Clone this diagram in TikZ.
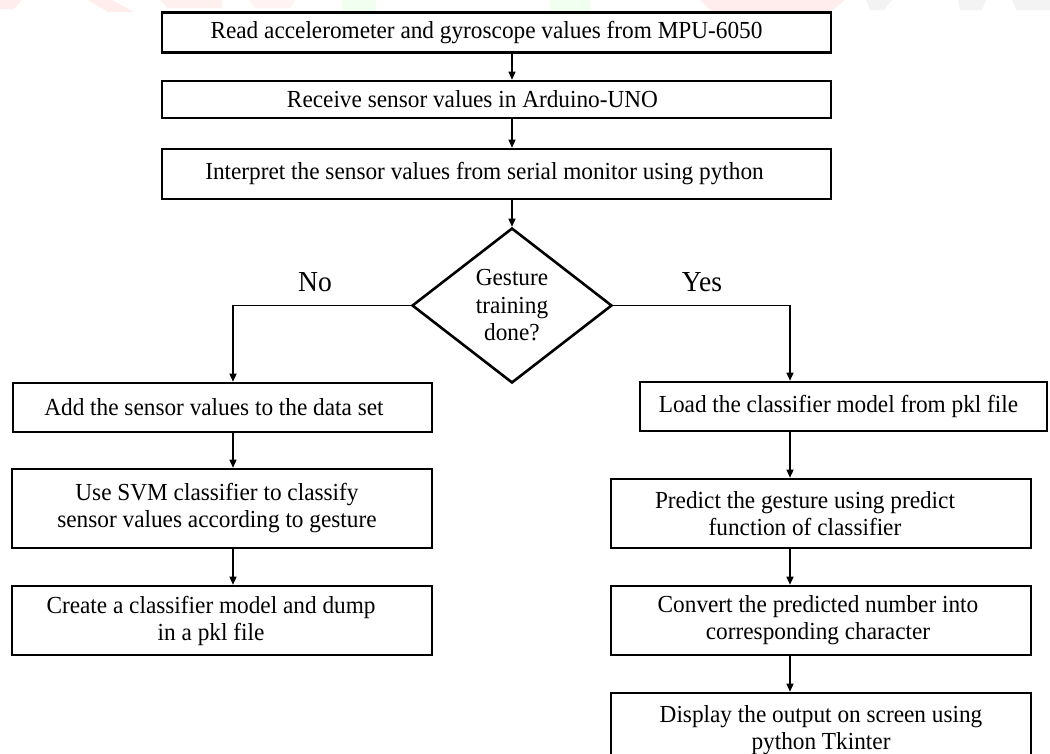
\documentclass[tikz,border=0pt]{standalone}
\usepackage{fontspec}
\setmainfont[FakeStretch=0.95]{Liberation Serif}
\usetikzlibrary{shapes.geometric,arrows.meta}
\newcommand{\rpad}[1]{\hspace*{#1}}
\begin{document}
\begin{tikzpicture}[x=1pt,y=-1pt,
  box/.style={draw=black,line width=2.6pt,rectangle,inner sep=0pt,align=center,
    font=\fontsize{24.5}{27}\selectfont},
  dec/.style={draw=black,line width=2.6pt,diamond,inner sep=0pt,align=center,
    minimum width=200pt,minimum height=155pt,font=\fontsize{24.5}{27.5}\selectfont},
  lbl/.style={inner sep=0pt,font=\fontsize{29}{30}\selectfont},
  conn/.style={draw=black,line width=1.3pt,-{Triangle[length=8pt,width=7pt]}}]
\useasboundingbox (0,0) rectangle (1050,753);
\clip (0,0) rectangle (1050,753);

% faint watermark fragments at the top edge
\begin{scope}[opacity=0.12]
  \fill[red!60] (0,0) -- (22,0) -- (14,9) -- (0,9) -- cycle;
  \fill[red!60] (88,0) -- (112,0) -- (134,12) -- (108,12) -- cycle;
  \fill[red!50] (160,0) -- (222,0) -- (222,8) -- (168,8) -- cycle;
  \fill[red!40] (250,0) -- (295,0) -- (290,8) -- (255,8) -- cycle;
  \fill[green!50] (342,0) -- (376,0) -- (376,15) -- (342,15) -- cycle;
  \fill[green!50] (550,0) -- (590,0) -- (590,15) -- (550,15) -- cycle;
  \fill[red!60] (700,0) -- (845,0) -- (830,12) -- (712,12) -- cycle;
  \fill[gray!80] (866,0) -- (892,0) -- (884,10) -- (870,10) -- cycle;
  \fill[gray!80] (958,0) -- (986,0) -- (982,10) -- (960,10) -- cycle;
  \fill[gray!80] (1012,0) -- (1050,0) -- (1050,10) -- (1016,10) -- cycle;
\end{scope}

% column guides
\coordinate (lx) at (233,0);
\coordinate (rx) at (790,0);

% main column
\node[box,minimum width=669pt,minimum height=40pt] (b1) at (496.5,32.5)
  {Read accelerometer and gyroscope values from MPU-6050\rpad{20pt}};
\node[box,minimum width=669pt,minimum height=37pt] (b2) at (496.5,99.5)
  {Receive sensor values in Arduino-UNO\rpad{48pt}};
\node[box,minimum width=669pt,minimum height=50pt] (b3) at (496.5,174)
  {Interpret the sensor values from serial monitor using python\rpad{24pt}};
\node[dec] (dia) at (512,305.5) {Gesture\\training\\done?};

\node[lbl] (no) at (315,282) {No};
\node[lbl] (yes) at (702,282) {Yes};

% left column
\node[box,minimum width=419pt,minimum height=49pt] (b4) at (222.5,407.5)
  {Add the sensor values to the data set\rpad{17pt}};
\node[box,minimum width=420pt,minimum height=79pt] (b5) at (222,508.5)
  {Use SVM classifier to classify\rpad{10pt}\\sensor values according to gesture\rpad{10pt}};
\node[box,minimum width=420pt,minimum height=69pt] (b6) at (222,620.5)
  {Create a classifier model and dump\rpad{22pt}\\in a pkl file\rpad{22pt}};

% right column
\node[box,minimum width=407pt,minimum height=49pt] (r1) at (843.5,406.5)
  {Load the classifier model from pkl file\rpad{10pt}};
\node[box,minimum width=420pt,minimum height=69pt] (r2) at (821,513.5)
  {Predict the gesture using predict\rpad{32pt}\\function of classifier\rpad{32pt}};
\node[box,minimum width=420pt,minimum height=69pt] (r3) at (821,620.5)
  {Convert the predicted number into\rpad{6pt}\\corresponding character\rpad{6pt}};
\node[box,minimum width=420pt,minimum height=74pt] (r4) at (821,730)
  {Display the output on screen using\\python Tkinter};

% connectors
\draw[conn] (b1.south -| dia.north) -- (b2.north -| dia.north);
\draw[conn] (b2.south -| dia.north) -- (b3.north -| dia.north);
\draw[conn] (b3.south -| dia.north) -- (dia.north);
\draw[conn] (dia.west) -| (b4.north -| lx);
\draw[conn] (dia.east) -| (r1.north -| rx);
\draw[conn] (b4.south -| lx) -- (b5.north -| lx);
\draw[conn] (b5.south -| lx) -- (b6.north -| lx);
\draw[conn] (r1.south -| rx) -- (r2.north -| rx);
\draw[conn] (r2.south -| rx) -- (r3.north -| rx);
\draw[conn] (r3.south -| rx) -- (r4.north -| rx);
\end{tikzpicture}
\end{document}
